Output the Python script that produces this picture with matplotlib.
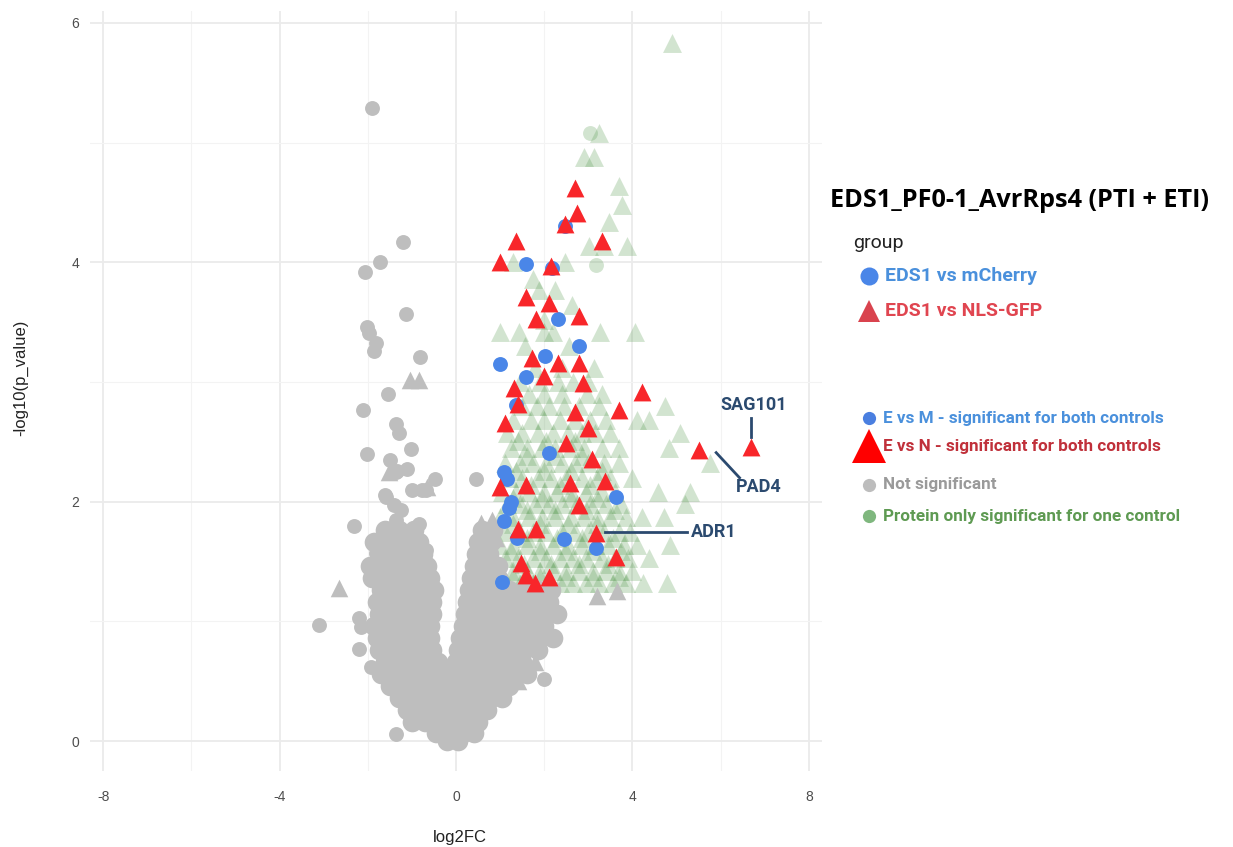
import matplotlib
matplotlib.use("Agg")
import matplotlib.pyplot as plt
from matplotlib.lines import Line2D

plt.rcParams["axes.unicode_minus"] = False  # eixos com hifen simples, como no ggplot

# --- dados (log2FC, -log10 p) ---------------------------------------------

# E vs N: triangulos vermelhos
red_x = [2.69, 2.74, 2.47, 1.36, 1.00, 2.15, 3.30, 1.58, 2.10, 1.81, 2.78, 1.72, 2.31,
         2.78, 1.99, 1.31, 1.40, 2.87, 4.21, 2.69, 3.69, 1.11, 2.99, 2.49, 3.08, 1.00,
         1.58, 2.58, 3.37, 2.78, 1.40, 1.81, 3.17, 3.62, 1.47, 1.58, 1.79, 2.10, 5.52, 6.70]
red_y = [4.62, 4.41, 4.32, 4.18, 4.00, 3.97, 4.18, 3.71, 3.66, 3.53, 3.55, 3.20, 3.16,
         3.16, 3.05, 2.95, 2.82, 2.99, 2.92, 2.75, 2.77, 2.66, 2.62, 2.49, 2.36, 2.12,
         2.14, 2.16, 2.17, 1.97, 1.77, 1.77, 1.74, 1.54, 1.49, 1.39, 1.32, 1.37, 2.43, 2.46]

# E vs M: circulos azuis
blue_x = [1.58, 2.47, 2.17, 2.31, 2.78, 2.01, 1.00, 1.58, 1.36, 2.10, 1.09, 1.15, 1.24,
          1.20, 1.09, 1.38, 2.44, 3.17, 3.62, 1.04]
blue_y = [3.99, 4.30, 3.95, 3.53, 3.30, 3.22, 3.15, 3.04, 2.81, 2.41, 2.25, 2.19, 2.00,
          1.95, 1.84, 1.70, 1.69, 1.61, 2.04, 1.33]

# significativo para apenas um controle (verde)
green_rows = [
    (1.32, [1.15, 1.45, 1.75, 2.05, 2.35, 2.65, 2.95, 3.25, 3.55, 3.85, 4.25, 4.78]),
    (1.37, [1.3, 1.9, 2.5, 3.1, 3.7]),
    (1.42, [1.0, 1.3, 1.6, 1.9, 2.2, 2.5, 2.8, 3.1, 3.4, 3.69, 4.0]),
    (1.48, [1.55, 2.15, 2.8, 3.45]),
    (1.53, [1.1, 1.4, 1.75, 2.05, 2.35, 2.65, 2.95, 3.3, 3.6, 3.9, 4.37]),
    (1.59, [1.25, 1.9, 2.5, 3.1, 3.75]),
    (1.64, [1.0, 1.3, 1.6, 1.9, 2.2, 2.55, 2.85, 3.15, 3.45, 3.8, 4.1, 4.86]),
    (1.70, [1.6, 2.3, 2.85, 3.55]),
    (1.75, [1.1, 1.45, 1.75, 2.05, 2.4, 2.7, 3.0, 3.35, 3.7, 3.95]),
    (1.81, [1.3, 1.9, 2.55, 3.2]),
    (1.87, [1.0, 1.3, 1.65, 1.95, 2.25, 2.6, 2.9, 3.2, 3.5, 3.85, 4.21, 4.71]),
    (1.93, [1.6, 2.25, 2.95, 3.6]),
    (1.98, [1.15, 1.45, 1.8, 2.1, 2.4, 2.75, 3.05, 3.4, 3.75, 5.2]),
    (2.03, [1.3, 1.95, 2.6, 3.2]),
    (2.08, [1.05, 1.35, 1.65, 2.0, 2.3, 2.6, 2.95, 3.3, 3.6, 4.59, 5.31]),
    (2.14, [1.7, 2.35, 3.05]),
    (2.20, [1.2, 1.5, 1.85, 2.15, 2.5, 2.85, 3.2, 3.5, 3.99]),
    (2.26, [1.35, 2.0, 2.6, 3.3]),
    (2.32, [1.1, 1.45, 1.75, 2.05, 2.4, 2.7, 3.0, 3.35, 3.7, 5.76]),
    (2.38, [1.6, 2.25, 2.85]),
    (2.45, [1.25, 1.6, 1.95, 2.25, 2.6, 2.9, 3.3, 3.69, 4.82]),
    (2.51, [1.4, 2.05, 2.7]),
    (2.57, [1.15, 1.5, 1.85, 2.2, 2.55, 2.85, 3.16, 3.5, 5.08]),
    (2.68, [1.3, 1.7, 2.0, 2.35, 2.7, 3.05, 3.4, 4.1, 4.37]),
    (2.80, [1.5, 1.84, 2.1, 2.45, 2.8, 3.24, 4.74]),
    (2.90, [1.65, 1.99, 2.4, 2.97, 3.31]),
    (3.00, [1.45, 1.9, 2.31, 2.65, 3.0]),
    (3.12, [1.8, 2.4, 3.12]),
    (3.30, [1.56, 2.56]),
    (3.42, [0.99, 1.43, 1.99, 2.2, 3.27, 4.07]),
    (3.52, [1.99]),
    (3.64, [2.62]),
    (3.77, [1.88, 2.25]),
    (3.86, [1.75]),
    (4.00, [1.3, 2.47]),
    (4.14, [3.01, 3.35, 3.87]),
    (4.34, [3.46]),
    (4.48, [3.76]),
    (4.64, [3.69]),
    (4.88, [2.9, 3.12]),
    (5.08, [3.24]),
    (5.83, [4.89]),
]
green_circ_x = [3.05, 3.17]
green_circ_y = [5.08, 3.98]

# nao significativo (cinza): pontos isolados
grey_x = [-1.91, -1.20, -1.72, -2.06, -1.14, -2.02, -1.97, -1.82, -1.87, -0.81, -1.55,
          -2.10, -1.35, -1.29, -2.02, -1.01, -1.49, -1.33, -1.10, -0.48, 0.45, -1.61,
          -0.99, -0.77, -1.36, -0.69, -1.59, -1.40, -1.25, -1.36, -2.31, -0.84, -1.48,
          -1.82, -1.29, -1.02, -0.69, -1.67, -1.14, -0.84, -3.10, -2.19, -2.16, -2.19,
          -1.93, -1.36, 1.99]
grey_y = [5.29, 4.17, 4.00, 3.92, 3.57, 3.46, 3.41, 3.33, 3.26, 3.21, 2.90,
          2.77, 2.65, 2.57, 2.40, 2.44, 2.35, 2.26, 2.27, 2.19, 2.19, 2.06,
          2.10, 2.10, 2.25, 2.10, 2.04, 1.97, 1.93, 1.85, 1.80, 1.81, 1.67,
          1.57, 1.60, 1.60, 1.60, 1.48, 1.48, 1.51, 0.97, 1.03, 0.95, 0.77,
          0.62, 0.06, 0.52]

# nao significativo (cinza): massa central em V
grey_rows = [
    (0.00, [-0.2, 0.05]),
    (0.07, [-0.45, -0.15, 0.15, 0.4]),
    (0.16, [-1.0, -0.7, -0.4, -0.1, 0.2, 0.5]),
    (0.26, [-1.1, -0.8, -0.5, -0.2, 0.1, 0.4, 0.7]),
    (0.36, [-1.3, -1.0, -0.7, -0.4, -0.1, 0.2, 0.5, 0.8, 1.05]),
    (0.46, [-1.5, -1.2, -0.9, -0.6, -0.3, 0.0, 0.3, 0.6, 0.9, 1.2]),
    (0.56, [-1.7, -1.4, -1.1, -0.8, -0.5, -0.2, 0.1, 0.4, 0.7, 1.0, 1.3, 1.6]),
    (0.66, [-1.6, -1.3, -1.0, -0.7, -0.4, 0.0, 0.3, 0.6, 0.9, 1.2, 1.5]),
    (0.76, [-1.75, -1.45, -1.15, -0.85, -0.55, 0.05, 0.35, 0.65, 0.95, 1.25, 1.55, 1.85]),
    (0.86, [-1.8, -1.5, -1.2, -0.9, -0.6, 0.1, 0.4, 0.7, 1.0, 1.3, 1.6, 1.9, 2.2]),
    (0.96, [-1.85, -1.55, -1.25, -0.95, -0.6, 0.15, 0.45, 0.75, 1.05, 1.35, 1.7, 2.0]),
    (1.06, [-1.75, -1.45, -1.15, -0.85, -0.55, 0.2, 0.5, 0.8, 1.1, 1.45, 1.75, 2.05, 2.3]),
    (1.16, [-1.8, -1.5, -1.2, -0.9, -0.55, 0.25, 0.55, 0.85, 1.15, 1.5, 1.8, 2.1]),
    (1.26, [-1.7, -1.4, -1.1, -0.8, -0.5, 0.3, 0.6, 0.9, 1.2, 1.55, 1.85, 2.15]),
    (1.36, [-1.9, -1.55, -1.25, -0.95, -0.6, 0.35, 0.65, 0.95]),
    (1.46, [-1.95, -1.6, -1.3, -1.0, -0.65, 0.4, 0.7, 0.95]),
    (1.56, [-1.75, -1.45, -1.1, -0.75, 0.45, 0.75]),
    (1.66, [-1.85, -1.5, -1.2, -0.85, 0.5, 0.8]),
    (1.76, [-1.6, -1.3, -0.95, 0.6, 0.85]),
]

grey_tri_x = [-1.05, -0.84, -1.52, -0.66, -0.61, -2.65, 0.56, 0.81, 1.41, 1.80, 3.20, 3.65,
              0.70, 0.95, 0.90, 1.05]
grey_tri_y = [3.02, 3.02, 2.25, 2.12, 1.39, 1.28, 1.82, 1.85, 0.50, 0.66, 1.21, 1.25,
              1.60, 1.45, 1.70, 1.35]

# rotulos de proteinas: (nome, ponto de saida da linha, fim da linha, posicao do texto)
rotulos = [
    ("SAG101", (6.70, 2.54), (6.70, 2.70), (6.74, 2.81), "center"),
    ("PAD4", (5.90, 2.41), (6.43, 2.20), (6.86, 2.12), "center"),
    ("ADR1", (3.37, 1.75), (5.23, 1.75), (5.32, 1.75), "left"),
]

# --- cores ------------------------------------------------------------------
c_red = "#F8262A"
c_blue = "#4A86E8"
c_green = "#5E9E57"
c_grey = "#BEBEBE"
c_lab = "#2B4A6F"

green_x = [x for y, xs in green_rows for x in xs]
green_y = [y for y, xs in green_rows for x in xs]
blob_x = [x for y, xs in grey_rows for x in xs]
blob_y = [y for y, xs in grey_rows for x in xs]

fig = plt.figure(figsize=(12.33, 8.47), dpi=100)
ax = fig.add_axes([90 / 1233, 1 - 771 / 847, 732 / 1233, 760 / 847])

ax.scatter(green_x, green_y, marker="^", s=185, color=c_green, alpha=0.28, linewidths=0, zorder=2)
ax.scatter(green_circ_x, green_circ_y, marker="o", s=115, color=c_green, alpha=0.28, linewidths=0, zorder=2)
ax.scatter(blob_x, blob_y, marker="o", s=200, color=c_grey, linewidths=0, zorder=3)
ax.scatter(grey_x, grey_y, marker="o", s=115, color=c_grey, linewidths=0, zorder=3)
ax.scatter(grey_tri_x, grey_tri_y, marker="^", s=160, color=c_grey, linewidths=0, zorder=3)
ax.scatter(blue_x, blue_y, marker="o", s=115, color=c_blue, linewidths=0, zorder=4)
ax.scatter(red_x, red_y, marker="^", s=165, color=c_red, linewidths=0, zorder=5)

for nome, p0, p1, pt, alinh in rotulos:
    ax.plot([p0[0], p1[0]], [p0[1], p1[1]], color=c_lab, lw=2, zorder=6)
    ax.text(pt[0], pt[1], nome, fontsize=13, fontweight="bold", color=c_lab,
            family="Roboto", ha=alinh, va="center", zorder=6)

ax.set_xlim(-8.3, 8.3)
ax.set_ylim(-0.25, 6.1)
ax.set_xticks([-8, -4, 0, 4, 8])
ax.set_xticks([-6, -2, 2, 6], minor=True)
ax.set_yticks([0, 2, 4, 6])
ax.set_yticks([1, 3, 5], minor=True)
ax.grid(which="major", color="#EBEBEB", lw=1.3, zorder=0)
ax.grid(which="minor", color="#F3F3F3", lw=0.8, zorder=0)
ax.set_axisbelow(True)
for s in ax.spines.values():
    s.set_visible(False)
ax.tick_params(which="both", length=0, labelsize=10, labelcolor="#4D4D4D")
ax.tick_params(axis="x", pad=14)
ax.tick_params(axis="y", pad=8)
for lbl in ax.get_xticklabels() + ax.get_yticklabels():
    lbl.set_family("Liberation Sans")
ax.set_xlabel("log2FC", fontsize=12, family="Liberation Sans", color="#222222")
ax.set_ylabel("-log10(p_value)", fontsize=12, family="Liberation Sans", color="#222222")
ax.xaxis.set_label_coords(0.505, -0.078)
ax.yaxis.set_label_coords(-0.085, 0.517)

# titulo e legendas a direita
fig.text(830 / 1233, 1 - 200 / 847, "EDS1_PF0-1_AvrRps4 (PTI + ETI)", fontsize=18.2,
         fontweight="bold", family="Open Sans", va="center", ha="left")
fig.text(853 / 1233, 1 - 243 / 847, "group", fontsize=14, family="Roboto", color="#222222", va="center")

legenda = [
    ("o", 13, c_blue, 276, 885, "EDS1 vs mCherry", "#4A90DC", 14),
    ("^", 16, "#D9434E", 311, 885, "EDS1 vs NLS-GFP", "#E04550", 14),
    ("o", 9.5, "#4A7FE0", 418, 883, "E vs M - significant for both controls", "#4A90DC", 12.3),
    ("^", 24, "#FF0000", 446, 883, "E vs N - significant for both controls", "#C0303A", 12.3),
    ("o", 9.5, "#BDBDBD", 485, 883, "Not significant", "#9A9A9A", 12.3),
    ("o", 9.5, "#7FB77E", 516, 883, "Protein only significant for one control", "#5E9A52", 12.3),
]
for mk, ms, mc, ypx, xtx, txt, tc, fs in legenda:
    fig.add_artist(Line2D([869 / 1233], [1 - ypx / 847], marker=mk, markersize=ms,
                          color=mc, markeredgewidth=0, linestyle="none",
                          transform=fig.transFigure))
    fig.text(xtx / 1233, 1 - ypx / 847, txt, fontsize=fs, fontweight="bold",
             family="Roboto", color=tc, va="center", ha="left")

fig.savefig("out.png", dpi=100)
